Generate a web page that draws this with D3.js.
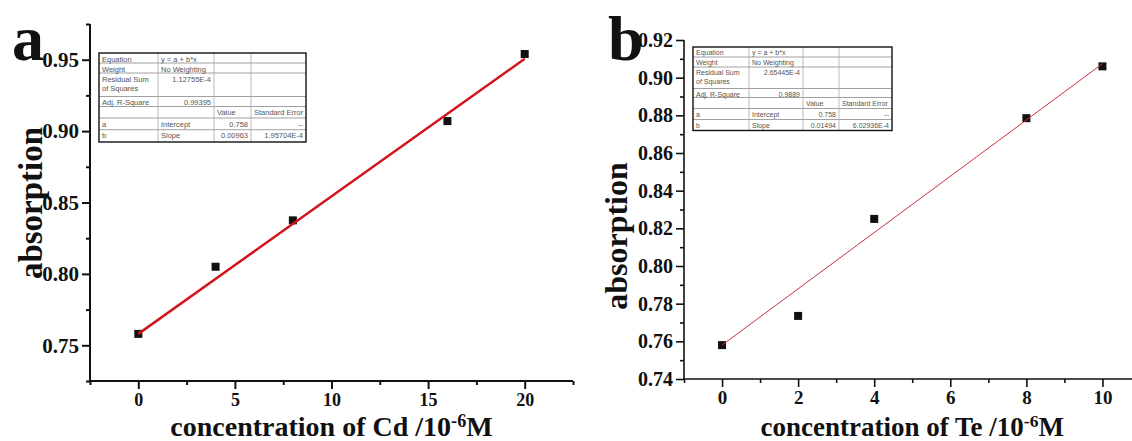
<!DOCTYPE html>
<html lang="en">
<head>
<meta charset="UTF-8">
<title>Calibration curves Cd / Te</title>
<script src="https://d3js.org/d3.v7.min.js"></script>
<style>
  html, body { margin: 0; padding: 0; background: #fff; }
  svg { display: block; }
  .tick text { font-family: "Liberation Serif", "Times New Roman", serif; font-weight: bold; fill: #111; }
</style>
</head>
<body>
<svg id="chart"></svg>
<script>
// ---- data ----
const cdConc = [0, 4, 8, 16, 20];
const cdAbs = [0.758, 0.805, 0.8375, 0.907, 0.954];
const cdIntercept = 0.758;
const cdSlope = 0.00963;

const teConc = [0, 2, 4, 8, 10];
const teAbs = [0.758, 0.7735, 0.825, 0.8785, 0.906];
const teIntercept = 0.758;
const teSlope = 0.01494;

// ticks
const cdXTicks = [0, 5, 10, 15, 20];
const cdXMinor = [-2.5, 2.5, 7.5, 12.5, 17.5, 22.5];
const cdYTicks = [0.75, 0.80, 0.85, 0.90, 0.95];
const cdYMinor = [0.725, 0.775, 0.825, 0.875, 0.925, 0.975];

const teXTicks = [0, 2, 4, 6, 8, 10];
const teXMinor = [-1, 1, 3, 5, 7, 9, 11];
const teYTicks = [0.74, 0.76, 0.78, 0.80, 0.82, 0.84, 0.86, 0.88, 0.90, 0.92];
const teYMinor = [0.75, 0.77, 0.79, 0.81, 0.83, 0.85, 0.87, 0.89, 0.91];

// fit report tables (Origin style)
const cdTable = [
  ["Equation", "y = a + b*x", "", ""],
  ["Weight", "No Weighting", "", ""],
  ["Residual Sum|of Squares", "1.12755E-4", "", ""],
  ["Adj. R-Square", "0.99395", "", ""],
  ["", "", "Value", "Standard Error"],
  ["a", "Intercept", "0.758", "--"],
  ["b", "Slope", "0.00963", "1.95704E-4"]
];
const teTable = [
  ["Equation", "y = a + b*x", "", ""],
  ["Weight", "No Weighting", "", ""],
  ["Residual Sum|of Squares", "2.65445E-4", "", ""],
  ["Adj. R-Square", "0.9889", "", ""],
  ["", "", "Value", "Standard Error"],
  ["a", "Intercept", "0.758", "--"],
  ["b", "Slope", "0.01494", "6.02936E-4"]
];

const width = 1132, height = 441;
const svg = d3.select("#chart").attr("width", width).attr("height", height);

function drawPanel(p) {
  const x = d3.scaleLinear().domain(p.xDomain).range(p.xRange);
  const y = d3.scaleLinear().domain(p.yDomain).range(p.yRange);
  const g = svg.append("g");

  // minor ticks
  g.append("g").attr("transform", `translate(0,${p.yRange[0]})`)
    .call(d3.axisBottom(x).tickValues(p.xMinor).tickSize(4).tickFormat(""))
    .call(a => a.select(".domain").remove())
    .selectAll("line").attr("stroke", "#111").attr("stroke-width", p.axisW);
  g.append("g").attr("transform", `translate(${p.xRange[0]},0)`)
    .call(d3.axisLeft(y).tickValues(p.yMinor).tickSize(4).tickFormat(""))
    .call(a => a.select(".domain").remove())
    .selectAll("line").attr("stroke", "#111").attr("stroke-width", p.axisW);

  // major ticks
  const xa = g.append("g").attr("transform", `translate(0,${p.yRange[0]})`)
    .call(d3.axisBottom(x).tickValues(p.xTicks).tickSize(8).tickPadding(4).tickFormat(d3.format("d")));
  xa.select(".domain").remove();
  xa.selectAll("line").attr("stroke", "#111").attr("stroke-width", p.axisW);
  xa.selectAll("text").style("font-size", p.xTickFont + "px");

  const ya = g.append("g").attr("transform", `translate(${p.xRange[0]},0)`)
    .call(d3.axisLeft(y).tickValues(p.yTicks).tickSize(8).tickPadding(3).tickFormat(d3.format(".2f")));
  ya.select(".domain").remove();
  ya.selectAll("line").attr("stroke", "#111").attr("stroke-width", p.axisW);
  ya.selectAll("text").style("font-size", p.yTickFont + "px");

  // axis lines
  g.append("line").attr("x1", p.xRange[0]).attr("x2", p.xRange[1])
    .attr("y1", p.yRange[0]).attr("y2", p.yRange[0])
    .attr("stroke", "#111").attr("stroke-width", p.axisW);
  g.append("line").attr("x1", p.xRange[0]).attr("x2", p.xRange[0])
    .attr("y1", p.yRange[0]).attr("y2", p.yRange[1])
    .attr("stroke", "#111").attr("stroke-width", p.axisW);

  // points
  g.append("g").selectAll("rect")
    .data(p.xs.map((v, i) => [v, p.ys[i]]))
    .join("rect")
    .attr("x", d => x(d[0]) - 4).attr("y", d => y(d[1]) - 4)
    .attr("width", 8).attr("height", 8)
    .attr("fill", "#111");

  // linear fit over data range
  const xExt = d3.extent(p.xs);
  g.append("line")
    .attr("x1", x(xExt[0])).attr("y1", y(p.intercept + p.slope * xExt[0]))
    .attr("x2", x(xExt[1])).attr("y2", y(p.intercept + p.slope * xExt[1]))
    .attr("stroke", p.fitColor).attr("stroke-width", p.fitW);

  // axis titles
  g.append("text")
    .attr("transform", `translate(${p.yTitleX},${p.yTitleY}) rotate(-90)`)
    .attr("text-anchor", "middle")
    .style("font-family", "'Liberation Serif', 'Times New Roman', serif")
    .style("font-weight", "bold").style("font-size", p.titleFont + "px")
    .attr("fill", "#111")
    .text("absorption");

  const xt = g.append("text")
    .attr("x", (p.xRange[0] + p.xRange[1]) / 2).attr("y", 436)
    .attr("text-anchor", "middle")
    .style("font-family", "'Liberation Serif', 'Times New Roman', serif")
    .style("font-weight", "bold").style("font-size", p.xTitleFont + "px")
    .attr("fill", "#111");
  xt.append("tspan").text(`concentration of ${p.element} /10`);
  xt.append("tspan").attr("dy", -9).style("font-size", (p.xTitleFont * 0.65) + "px").text("-6");
  xt.append("tspan").attr("dy", 9).text("M");

  // fit table
  const t = p.table;
  const tg = g.append("g").style("font-family", "'Liberation Sans', Arial, sans-serif")
    .style("font-size", t.font + "px").attr("fill", "#555");
  tg.append("rect").attr("x", t.cols[0]).attr("y", t.rows[0])
    .attr("width", t.cols[4] - t.cols[0]).attr("height", t.rows[7] - t.rows[0])
    .attr("fill", "#fff");
  t.rows.slice(1, -1).forEach(r => tg.append("line")
    .attr("x1", t.cols[0]).attr("x2", t.cols[4]).attr("y1", r).attr("y2", r)
    .attr("stroke", "#888").attr("stroke-width", 0.8));
  t.cols.slice(1, -1).forEach(c => tg.append("line")
    .attr("x1", c).attr("x2", c).attr("y1", t.rows[0]).attr("y2", t.rows[7])
    .attr("stroke", "#aaa").attr("stroke-width", 0.8));
  tg.append("rect").attr("x", t.cols[0]).attr("y", t.rows[0])
    .attr("width", t.cols[4] - t.cols[0]).attr("height", t.rows[7] - t.rows[0])
    .attr("fill", "none").attr("stroke", "#111").attr("stroke-width", 1.4);

  p.tableData.forEach((row, ri) => {
    row.forEach((cell, ci) => {
      if (!cell) return;
      const numeric = /^[-\d.E]+$/.test(cell);
      const lines = cell.split("|");
      lines.forEach((ln, li) => {
        tg.append("text")
          .attr("x", numeric ? t.cols[ci + 1] - 3 : t.cols[ci] + 3)
          .attr("y", t.rows[ri] + t.font + 1 + li * (t.font + 2))
          .attr("text-anchor", numeric ? "end" : "start")
          .text(ln);
      });
    });
  });

  // panel letter
  g.append("text").attr("x", p.letterX).attr("y", p.letterY)
    .style("font-family", "'Liberation Serif', 'Times New Roman', serif")
    .style("font-weight", "bold").style("font-size", "64px")
    .attr("fill", "#111")
    .text(p.letter);
}

drawPanel({
  xs: cdConc, ys: cdAbs, intercept: cdIntercept, slope: cdSlope,
  xDomain: [-2.5, 22.5], xRange: [90, 573],
  yDomain: [0.725, 0.975], yRange: [381, 24],
  xTicks: cdXTicks, xMinor: cdXMinor, yTicks: cdYTicks, yMinor: cdYMinor,
  axisW: 2, xTickFont: 18, yTickFont: 21,
  fitColor: "#d3141c", fitW: 2.5,
  yTitleX: 42, yTitleY: 203, titleFont: 33, xTitleFont: 28, element: "Cd",
  table: { cols: [99, 158, 214, 251, 306], rows: [53, 63, 73, 96.5, 106.5, 118, 129.7, 142], font: 7.5 },
  tableData: cdTable,
  letter: "a", letterX: 12, letterY: 60
});

drawPanel({
  xs: teConc, ys: teAbs, intercept: teIntercept, slope: teSlope,
  xDomain: [-1, 11], xRange: [684, 1140.5],
  yDomain: [0.74, 0.92], yRange: [379, 40],
  xTicks: teXTicks, xMinor: teXMinor, yTicks: teYTicks, yMinor: teYMinor,
  axisW: 1.6, xTickFont: 19, yTickFont: 20,
  fitColor: "#c8333a", fitW: 1,
  yTitleX: 627, yTitleY: 236, titleFont: 32, xTitleFont: 27, element: "Te",
  table: { cols: [693, 749, 803, 839, 892], rows: [47, 57, 67, 88.5, 97.5, 108.5, 119.5, 130.5], font: 7 },
  tableData: teTable,
  letter: "b", letterX: 608, letterY: 60
});
</script>
</body>
</html>
